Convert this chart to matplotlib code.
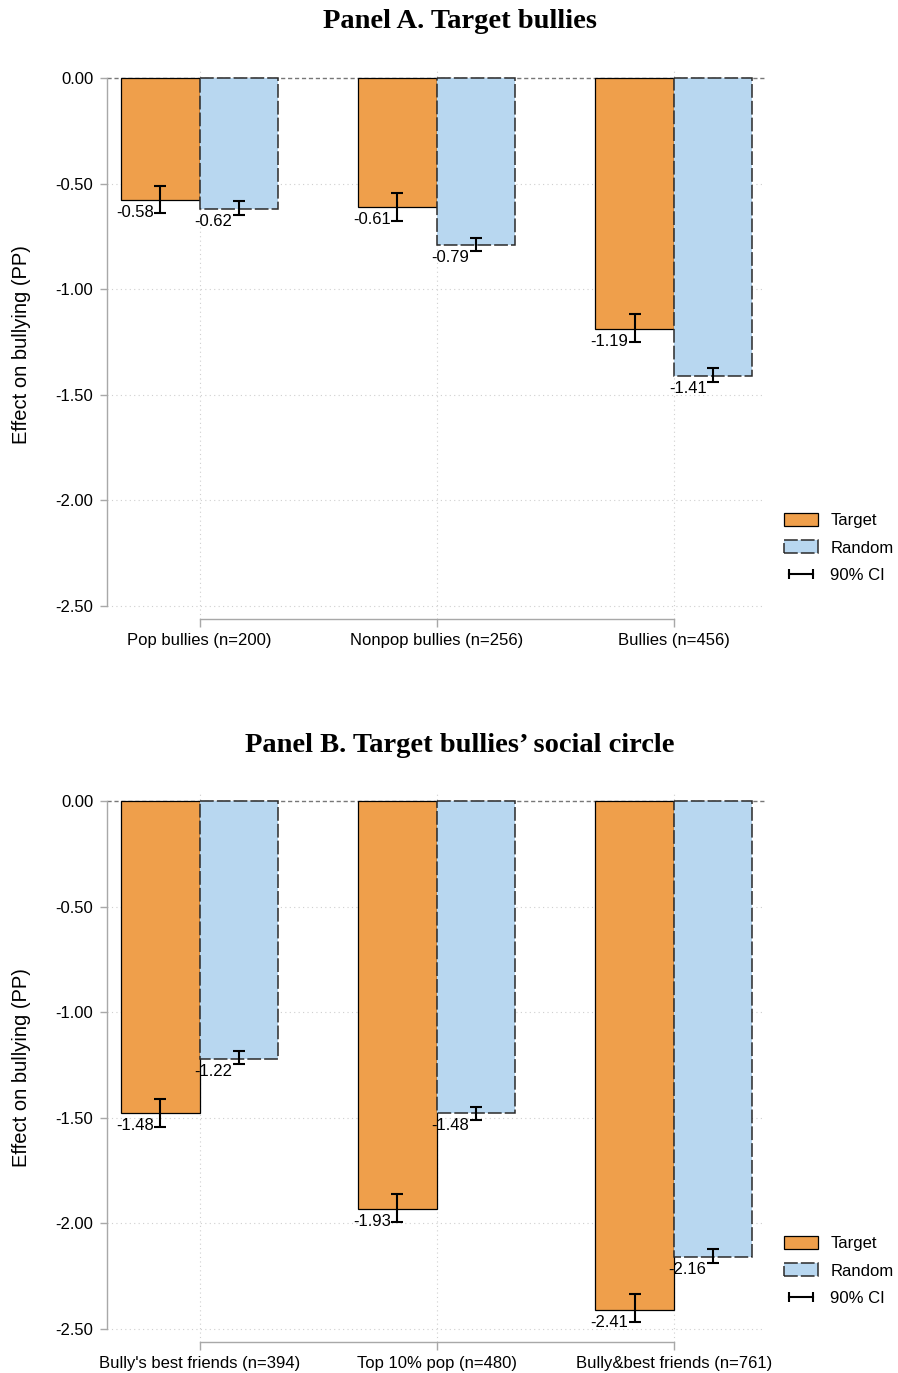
import matplotlib.pyplot as plt
from matplotlib.patches import Patch
from matplotlib.lines import Line2D
import numpy as np

## Data

groups_a = ["Pop bullies (n=200)", "Nonpop bullies (n=256)", "Bullies (n=456)"]
target_a = [-0.58, -0.61, -1.19]
random_a = [-0.62, -0.79, -1.41]
target_a_lo = [-0.639, -0.677, -1.250]
target_a_hi = [-0.511, -0.545, -1.117]
random_a_lo = [-0.649, -0.819, -1.440]
random_a_hi = [-0.585, -0.758, -1.373]

groups_b = ["Bully's best friends (n=394)", "Top 10% pop (n=480)", "Bully&best friends (n=761)"]
target_b = [-1.48, -1.93, -2.41]
random_b = [-1.22, -1.48, -2.16]
target_b_lo = [-1.544, -1.993, -2.467]
target_b_hi = [-1.411, -1.861, -2.334]
random_b_lo = [-1.245, -1.510, -2.188]
random_b_hi = [-1.184, -1.449, -2.121]

yticks = [0.0, -0.5, -1.0, -1.5, -2.0, -2.5]

## Style

plt.rcParams['font.family'] = ['Liberation Sans', 'DejaVu Sans']
ORANGE = '#EF9F4B'
BLUE = '#B8D7F0'
AXCOL = '#a8a8a8'
BAR_W = 0.33
DASH = (0, (9, 2))


def draw_panel(ax, groups, target, random, t_lo, t_hi, r_lo, r_hi):
    x = np.arange(1, len(groups) + 1)
    xt = x - BAR_W / 2
    xr = x + BAR_W / 2

    # grid and zero reference line
    for yv in yticks[1:]:
        ax.axhline(yv, color='#cfcfcf', lw=0.8, ls=(0, (1, 3)), zorder=0)
    for xv in x:
        ax.axvline(xv, color='#cfcfcf', lw=0.8, ls=(0, (1, 3)), zorder=0)
    ax.axhline(0, color='#777777', lw=1, ls=(0, (3, 2)), zorder=1)

    ax.bar(xt, target, width=BAR_W, color=ORANGE, edgecolor='black', lw=0.9, zorder=2)
    ax.bar(xr, random, width=BAR_W, color=BLUE, edgecolor='#2a2a2a', lw=1.1,
           ls=DASH, zorder=2)

    # 90% CI
    for xs, lo, hi in [(xt, t_lo, t_hi), (xr, r_lo, r_hi)]:
        lo = np.array(lo)
        hi = np.array(hi)
        ax.errorbar(xs, (lo + hi) / 2, yerr=(hi - lo) / 2, fmt='none', ecolor='black',
                    elinewidth=1.5, capsize=4, capthick=1.5, zorder=4)

    # value labels
    for xs, vals in [(xt, target), (xr, random)]:
        for xv, v in zip(xs, vals):
            ax.annotate("%.2f" % v, (xv, v), xytext=(-4.5, -9), textcoords='offset points',
                        ha='right', va='center', fontsize=12, zorder=5)

    ax.set_xlim(0.61, 3.385)
    ax.set_ylim(-2.562, 0.04)
    ax.set_yticks(yticks)
    ax.set_yticklabels(["%.2f" % v for v in yticks])
    ax.set_xticks(x)
    ax.set_xticklabels(groups)
    ax.tick_params(axis='y', length=5, width=1, color=AXCOL, pad=5, labelsize=12)
    ax.tick_params(axis='x', length=6, width=1, color=AXCOL, pad=4, labelsize=12)
    for s in ['top', 'right']:
        ax.spines[s].set_visible(False)
    for s in ['left', 'bottom']:
        ax.spines[s].set_color(AXCOL)
        ax.spines[s].set_linewidth(1)
    ax.spines['left'].set_bounds(-2.5, 0)
    ax.spines['bottom'].set_bounds(1, 3)
    ax.set_ylabel("Effect on bullying (PP)", fontsize=14.5)
    ax.yaxis.set_label_coords(-0.115, 0.5)


fig = plt.figure(figsize=(8.98, 13.73), dpi=100)
ax_a = fig.add_axes([0.1192, 0.5492, 0.7327, 0.4002])
ax_b = fig.add_axes([0.1192, 0.0226, 0.7327, 0.4002])

draw_panel(ax_a, groups_a, target_a, random_a, target_a_lo, target_a_hi, random_a_lo, random_a_hi)
draw_panel(ax_b, groups_b, target_b, random_b, target_b_lo, target_b_hi, random_b_lo, random_b_hi)

title_kw = dict(ha='center', va='center', fontsize=20.5, fontweight='bold',
                family='Liberation Serif')
fig.text(0.512, 0.9840, "Panel A. Target bullies", **title_kw)
fig.text(0.512, 0.4567, "Panel B. Target bullies\u2019 social circle", **title_kw)

handles = [Patch(facecolor=ORANGE, edgecolor='black', lw=0.9),
           Patch(facecolor=BLUE, edgecolor='#2a2a2a', lw=1.1, ls=DASH),
           Line2D([], [], color='black', lw=1.5, marker='|', markersize=7, markeredgewidth=1.5)]
labels = ["Target", "Random", "90% CI"]
for ypos in [0.6310, 0.1044]:
    fig.legend(handles, labels, loc='upper left', bbox_to_anchor=(0.866, ypos),
               frameon=False, fontsize=12, numpoints=2, handlelength=2.0,
               handleheight=0.8, labelspacing=0.72, handletextpad=0.75, borderaxespad=0)

fig.savefig("out.png", dpi=100)
